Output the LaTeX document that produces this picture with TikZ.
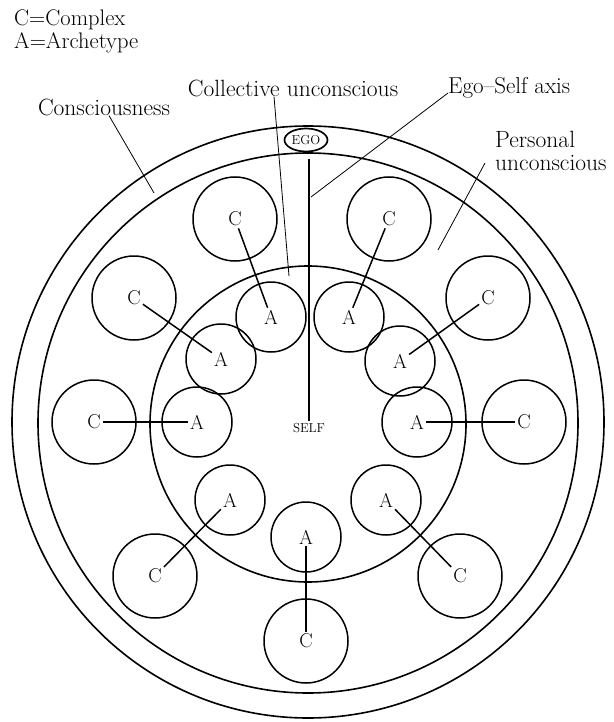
\documentclass[tikz,border=0pt]{standalone}
\usetikzlibrary{shapes.geometric}
\begin{document}
\begin{tikzpicture}[x=1pt,y=-1pt,
  ring/.style={draw, circle, line width=1.6pt, inner sep=0pt},
  ccirc/.style={draw, circle, line width=1.5pt, minimum size=84pt, inner sep=0pt},
  acirc/.style={draw, circle, line width=1.5pt, minimum size=70pt, inner sep=0pt},
  letter/.style={inner sep=2pt, font=\fontsize{20}{22}\selectfont},
  lbl/.style={inner sep=0pt, font=\fontsize{23.5}{22.5}\selectfont},
  small/.style={font=\fontsize{13}{13}\selectfont},
  link/.style={line width=1.5pt},
  leader/.style={line width=0.8pt},
]
\fill[white] (0,0) rectangle (613,722);
\useasboundingbox (0,0) rectangle (613,722);

% concentric regions
\node[ring, minimum size=592pt] (outer) at (308,422) {};
\node[ring, minimum size=540pt] (second) at (308,423) {};
\node[ring, minimum size=316pt] (middle) at (308,424) {};

% legend
\node[lbl, anchor=west, align=left, font=\fontsize{22.5}{23}\selectfont] (legend) at (14,31) {C=Complex\\A=Archetype};

% complexes and archetypes
\foreach \cx/\cy/\ax/\ay [count=\i] in {
  235/219/271/317,
  389/219/349/317,
  134/298/221/359,
  488/298/400/361,
  94/422/197/422,
  524/422/417/422,
  155/576/230/500,
  460/576/386/500,
  306/641/306/537}{
  \node[ccirc] (cc\i) at (\cx,\cy) {};
  \node[acirc] (ac\i) at (\ax,\ay) {};
  \node[letter] (c\i) at (\cx,\cy) {C};
  \node[letter] (a\i) at (\ax,\ay) {A};
  \draw[link] (c\i) -- (a\i);
}

% ego and self
\node[draw, ellipse, line width=1.7pt, minimum width=43pt, minimum height=23pt,
      inner sep=0pt, small] (ego) at (306,140) {EGO};
\node[small, inner sep=2pt] (self) at (309,428) {SELF};
\draw[link] (self.north |- ego.south) ++(0,7) -- (self.north);

% labels with leaders
\node[lbl] (cons) at (104,107) {Consciousness};
\coordinate (consEnd) at (154,193);
\draw[leader] (cons) -- (consEnd);

\node[lbl] (coll) at (293,88) {Collective unconscious};
\coordinate (collEnd) at (289,276);
\draw[leader] ([xshift=-19pt]coll.south) -- (collEnd);

\node[lbl, anchor=west, font=\fontsize{23}{22}\selectfont] (esa) at (448,88) {Ego--Self axis};
\coordinate (esaEnd) at (311,197);
\draw[leader] ([yshift=-5pt]esa.west) -- (esaEnd);

\node[lbl, anchor=west, align=left] (pers) at (495,151) {Personal\\unconscious};
\coordinate (persEnd) at (438,250);
\draw[leader] ([xshift=-10pt,yshift=-12pt]pers.west) -- (persEnd);
\end{tikzpicture}
\end{document}
